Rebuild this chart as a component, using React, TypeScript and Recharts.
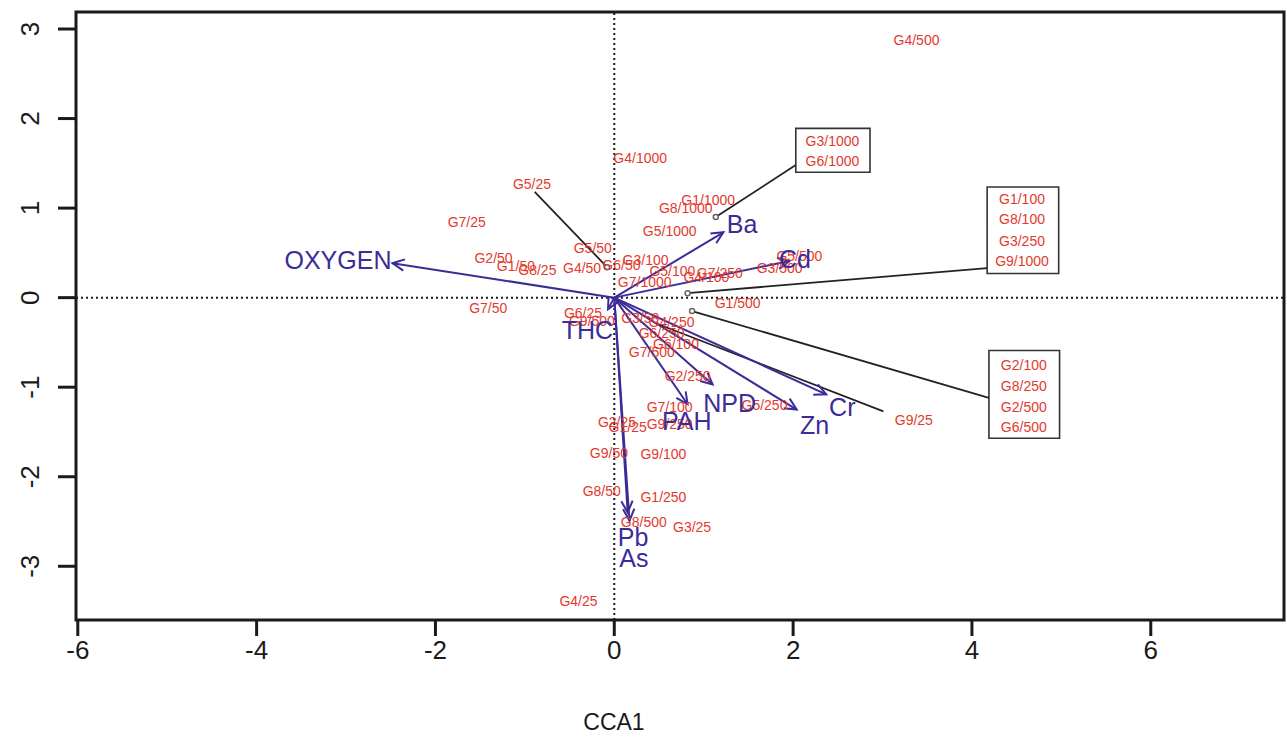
import React from 'react'
import {
  ScatterChart, Scatter, XAxis, YAxis, ReferenceLine, ReferenceArea, ReferenceDot,
} from 'recharts'

const FONT = '"Liberation Sans", Arial, sans-serif'
const RED = '#e3392d'
const BLUE = '#3b2c98'
const INK = '#1a1a1a'

const xTicks = [-6, -4, -2, 0, 2, 4, 6]
const yTicks = [-3, -2, -1, 0, 1, 2, 3]

// site scores (free labels)
const siteNames = [
  'G4/500', 'G4/1000', 'G5/25', 'G7/25', 'G1/1000', 'G8/1000', 'G5/1000', 'G5/50',
  'G2/50', 'G1/50', 'G8/25', 'G4/50', 'G6/50', 'G3/100', 'G5/100', 'G7/1000',
  'G4/100', 'G7/250', 'G5/500', 'G3/500', 'G1/500', 'G7/50', 'G6/25', 'G9/500',
  'G3/50', 'G4/250', 'G6/250', 'G6/100', 'G7/500', 'G2/250', 'G7/100', 'G5/250',
  'G9/25', 'G2/25', 'G1/25', 'G9/250', 'G9/50', 'G9/100', 'G8/50', 'G1/250',
  'G8/500', 'G3/25', 'G4/25',
]
const siteCCA1 = [
  3.38, 0.29, -0.92, -1.65, 1.05, 0.8, 0.62, -0.24,
  -1.35, -1.1, -0.86, -0.36, 0.08, 0.35, 0.65, 0.34,
  1.03, 1.18, 2.07, 1.85, 1.38, -1.41, -0.35, -0.25,
  0.29, 0.64, 0.53, 0.69, 0.42, 0.82, 0.62, 1.68,
  3.35, 0.03, 0.15, 0.62, -0.06, 0.55, -0.14, 0.55,
  0.33, 0.87, -0.4,
]
const siteCCA2 = [
  2.88, 1.56, 1.27, 0.85, 1.09, 1.0, 0.74, 0.55,
  0.44, 0.35, 0.31, 0.33, 0.37, 0.42, 0.3, 0.18,
  0.23, 0.27, 0.46, 0.33, -0.06, -0.12, -0.17, -0.26,
  -0.23, -0.27, -0.4, -0.52, -0.61, -0.87, -1.22, -1.2,
  -1.37, -1.39, -1.45, -1.41, -1.74, -1.75, -2.16, -2.23,
  -2.51, -2.56, -3.39,
]

// boxed labels
const boxedNames = [
  'G3/1000', 'G6/1000',
  'G1/100', 'G8/100', 'G3/250', 'G9/1000',
  'G2/100', 'G8/250', 'G2/500', 'G6/500',
]
const boxedCCA1 = [2.44, 2.44, 4.56, 4.56, 4.56, 4.56, 4.58, 4.58, 4.58, 4.58]
const boxedCCA2 = [1.75, 1.53, 1.1, 0.875, 0.63, 0.41, -0.75, -0.99, -1.22, -1.45]
const boxLeft = [2.03, 4.17, 4.19]
const boxRight = [2.86, 4.97, 4.98]
const boxTop = [1.89, 1.235, -0.59]
const boxBottom = [1.4, 0.27, -1.57]

// leader lines: point -> label
const pointCCA1 = [1.135, 0.82, 0.87, -0.08]
const pointCCA2 = [0.9, 0.05, -0.15, 0.34]
const leaderEndCCA1 = [2.03, 4.17, 4.19, -0.89]
const leaderEndCCA2 = [1.48, 0.33, -1.12, 1.18]
const g925Leader = [[0.45, -0.28], [3.01, -1.27]]

// environmental vectors
const envNames = ['OXYGEN', 'Ba', 'Cd', 'THC', 'Pb', 'As', 'PAH', 'NPD', 'Zn', 'Cr']
const envCCA1 = [-2.48, 1.22, 1.96, -0.07, 0.17, 0.15, 0.82, 1.1, 2.04, 2.37]
const envCCA2 = [0.385, 0.73, 0.41, -0.13, -2.49, -2.4, -1.19, -0.97, -1.25, -1.08]
const envLabelCCA1 = [-3.09, 1.43, 2.02, -0.3, 0.21, 0.22, 0.81, 1.29, 2.24, 2.55]
const envLabelCCA2 = [0.42, 0.82, 0.43, -0.36, -2.67, -2.91, -1.38, -1.18, -1.42, -1.22]

const siteData = siteNames.map((name, i) => ({ name, x: siteCCA1[i], y: siteCCA2[i] }))
const boxedData = boxedNames.map((name, i) => ({ name, x: boxedCCA1[i], y: boxedCCA2[i] }))
const envLabelData = envNames.map((name, i) => ({ name, x: envLabelCCA1[i], y: envLabelCCA2[i] }))

const siteText = (props: any) => (
  <text x={props.cx} y={props.cy} textAnchor="middle" dominantBaseline="central"
    fontSize={14} fill={RED} fontFamily={FONT}>{props.payload.name}</text>
)

const envText = (props: any) => (
  <text x={props.cx} y={props.cy} textAnchor="middle" dominantBaseline="central"
    fontSize={25} fill={BLUE} fontFamily={FONT}>{props.payload.name}</text>
)

const arrowShape = (props: any) => {
  const { x1, y1, x2, y2 } = props
  const a = Math.atan2(y2 - y1, x2 - x1)
  const L = 13
  const s = 0.45
  const p1 = `${x2 - L * Math.cos(a - s)},${y2 - L * Math.sin(a - s)}`
  const p2 = `${x2 - L * Math.cos(a + s)},${y2 - L * Math.sin(a + s)}`
  return (
    <g>
      <line x1={x1} y1={y1} x2={x2} y2={y2} stroke={BLUE} strokeWidth={2} />
      <path d={`M${p1} L${x2},${y2} L${p2}`} fill="none" stroke={BLUE} strokeWidth={2} />
    </g>
  )
}

const XTick = ({ x, y, payload }: any) => (
  <text x={x} y={y + 12} textAnchor="middle" dominantBaseline="central"
    fontSize={26} fill={INK} fontFamily={FONT}>{payload.value}</text>
)

const YTick = ({ x, y, payload }: any) => (
  <text x={x - 26} y={y} transform={`rotate(-90 ${x - 26} ${y})`} textAnchor="middle"
    dominantBaseline="central" fontSize={26} fill={INK} fontFamily={FONT}>{payload.value}</text>
)

export default function App() {
  return (
    <div style={{ position: 'absolute', left: 0, top: 0, background: '#fff' }}>
      <ScatterChart width={1287} height={744} margin={{ top: 12, right: 3, left: 0, bottom: 0 }}>
        <XAxis type="number" dataKey="x" domain={[-6.02, 7.49]} ticks={xTicks} allowDataOverflow
          height={124} tickSize={16} tickMargin={2} axisLine={false}
          tickLine={{ stroke: INK, strokeWidth: 3 }} tick={<XTick />}
          label={{ value: 'CCA1', position: 'insideBottom', offset: 14, dx: -66, fontSize: 23, fill: INK, fontFamily: FONT }} />
        <YAxis type="number" dataKey="y" domain={[-3.6, 3.19]} ticks={yTicks} allowDataOverflow
          width={76} tickSize={18} tickMargin={2} axisLine={false}
          tickLine={{ stroke: INK, strokeWidth: 3 }} tick={<YTick />} />

        <ReferenceLine x={0} stroke={INK} strokeWidth={2} strokeDasharray="2 3" />
        <ReferenceLine y={0} stroke={INK} strokeWidth={2} strokeDasharray="2 3" />

        {boxLeft.map((x1, i) => (
          <ReferenceArea key={'box' + i} x1={x1} x2={boxRight[i]} y1={boxBottom[i]} y2={boxTop[i]}
            fill="none" stroke="#333" strokeWidth={1.6} />
        ))}
        {pointCCA1.map((x, i) => (
          <ReferenceLine key={'lead' + i} segment={[{ x, y: pointCCA2[i] }, { x: leaderEndCCA1[i], y: leaderEndCCA2[i] }]}
            stroke="#222" strokeWidth={1.8} />
        ))}
        <ReferenceLine segment={[{ x: g925Leader[0][0], y: g925Leader[0][1] }, { x: g925Leader[1][0], y: g925Leader[1][1] }]}
          stroke="#222" strokeWidth={1.8} />
        {pointCCA1.map((x, i) => (
          <ReferenceDot key={'pt' + i} x={x} y={pointCCA2[i]} r={2.5} fill="#fff" stroke="#666" strokeWidth={1.5} />
        ))}

        {envCCA1.map((x, i) => (
          <ReferenceLine key={'env' + i} segment={[{ x: 0, y: 0 }, { x, y: envCCA2[i] }]} shape={arrowShape} />
        ))}

        <Scatter data={siteData} shape={siteText} isAnimationActive={false} />
        <Scatter data={boxedData} shape={siteText} isAnimationActive={false} />
        <Scatter data={envLabelData} shape={envText} isAnimationActive={false} />

        <ReferenceArea x1={-6.02} x2={7.49} y1={-3.6} y2={3.19} fill="none" stroke={INK} strokeWidth={3} />
      </ScatterChart>
    </div>
  )
}
